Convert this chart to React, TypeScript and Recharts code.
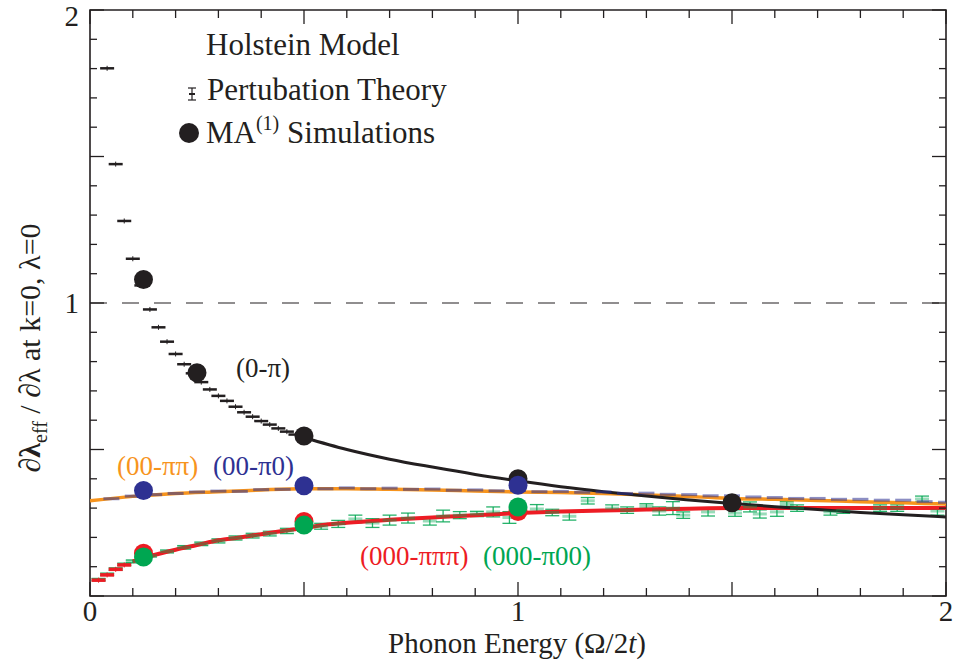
import React from "react";
import {
  ComposedChart,
  Line,
  Scatter,
  XAxis,
  YAxis,
  ReferenceLine,
  ReferenceArea,
  ErrorBar,
} from "recharts";

// perturbation theory (0-pi): discrete points, steep part
const piDashX = [0.04, 0.06, 0.08, 0.1, 0.12, 0.14, 0.16, 0.18, 0.2, 0.22, 0.24, 0.26, 0.28, 0.3, 0.32, 0.34, 0.36, 0.38, 0.4, 0.42, 0.44, 0.46, 0.48, 0.5];
const piDashY = [1.801, 1.474, 1.28, 1.151, 1.06, 0.978, 0.917, 0.868, 0.826, 0.791, 0.76, 0.73, 0.705, 0.683, 0.666, 0.646, 0.627, 0.612, 0.597, 0.585, 0.572, 0.561, 0.551, 0.541];
// perturbation theory (0-pi): dense part
const piLineX = [0.5, 0.6, 0.7, 0.8, 0.9, 1.0, 1.1, 1.2, 1.3, 1.4, 1.5, 1.6, 1.7, 1.8, 1.9, 2.0];
const piLineY = [0.541, 0.5, 0.467, 0.44, 0.415, 0.393, 0.373, 0.356, 0.341, 0.328, 0.316, 0.305, 0.295, 0.285, 0.277, 0.27];

// (00-pipi)
const ppX = [0, 0.1, 0.2, 0.3, 0.4, 0.5, 0.6, 0.7, 0.8, 0.9, 1.0, 1.1, 1.2, 1.3, 1.4, 1.5, 1.6, 1.7, 1.8, 1.9, 2.0];
const ppY = [0.325, 0.34, 0.35, 0.356, 0.362, 0.366, 0.366, 0.364, 0.362, 0.358, 0.355, 0.353, 0.35, 0.345, 0.34, 0.333, 0.33, 0.326, 0.322, 0.318, 0.314];

// (00-pi0)
const p0X = [0.05, 0.1, 0.15, 0.2, 0.25, 0.3, 0.35, 0.4, 0.45, 0.5, 0.55, 0.6, 0.65, 0.7, 0.75, 0.8, 0.85, 0.9, 0.95, 1.0, 1.05, 1.1, 1.15, 1.2, 1.25, 1.3, 1.35, 1.4, 1.45, 1.5, 1.55, 1.6, 1.65, 1.7, 1.75, 1.8, 1.85, 1.9, 1.95, 2.0];
const p0Y = [0.332, 0.341, 0.346, 0.35, 0.355, 0.358, 0.357, 0.363, 0.364, 0.368, 0.366, 0.369, 0.366, 0.368, 0.364, 0.365, 0.361, 0.362, 0.359, 0.36, 0.356, 0.357, 0.354, 0.355, 0.35, 0.351, 0.347, 0.346, 0.342, 0.342, 0.338, 0.336, 0.333, 0.333, 0.33, 0.33, 0.327, 0.327, 0.322, 0.32];

// (000-pipipi)
const pppDashX = [0.02, 0.04, 0.06, 0.08];
const pppDashY = [0.054, 0.072, 0.091, 0.106];
const pppX = [0.1, 0.15, 0.2, 0.25, 0.3, 0.35, 0.4, 0.45, 0.5, 0.55, 0.6, 0.7, 0.8, 0.9, 1.0, 1.1, 1.2, 1.3, 1.4, 1.5, 1.6, 1.7, 1.8, 1.9, 2.0];
const pppY = [0.118, 0.14, 0.158, 0.174, 0.19, 0.2, 0.211, 0.222, 0.232, 0.243, 0.25, 0.26, 0.268, 0.276, 0.283, 0.288, 0.292, 0.295, 0.298, 0.3, 0.3, 0.3, 0.3, 0.3, 0.3];

// (000-pi00) with error bars
const p00X = [0.02, 0.04, 0.06, 0.08, 0.1, 0.14, 0.18, 0.22, 0.26, 0.3, 0.34, 0.38, 0.42, 0.46, 0.5, 0.54, 0.58, 0.62, 0.66, 0.7, 0.743, 0.794, 0.825, 0.864, 0.904, 0.942, 0.98, 1.044, 1.08, 1.12, 1.163, 1.22, 1.255, 1.3, 1.33, 1.362, 1.386, 1.444, 1.507, 1.542, 1.565, 1.605, 1.628, 1.652, 1.73, 1.76, 1.846, 1.886, 1.944, 1.98];
const p00Y = [0.056, 0.074, 0.092, 0.108, 0.118, 0.138, 0.152, 0.166, 0.178, 0.188, 0.198, 0.206, 0.213, 0.222, 0.232, 0.238, 0.246, 0.263, 0.249, 0.259, 0.266, 0.256, 0.273, 0.276, 0.28, 0.287, 0.268, 0.297, 0.285, 0.272, 0.325, 0.3, 0.293, 0.307, 0.29, 0.3, 0.276, 0.287, 0.283, 0.304, 0.28, 0.287, 0.314, 0.3, 0.287, 0.293, 0.3, 0.3, 0.331, 0.29];
const p00E = [0.004, 0.004, 0.004, 0.004, 0.005, 0.005, 0.005, 0.006, 0.006, 0.007, 0.007, 0.008, 0.008, 0.009, 0.01, 0.01, 0.012, 0.013, 0.015, 0.017, 0.017, 0.014, 0.02, 0.012, 0.009, 0.017, 0.02, 0.015, 0.011, 0.013, 0.011, 0.011, 0.011, 0.008, 0.014, 0.022, 0.011, 0.014, 0.011, 0.017, 0.014, 0.015, 0.008, 0.011, 0.011, 0.011, 0.011, 0.011, 0.01, 0.014];

// MA(1) simulations
const maX = [0.125, 0.25, 0.5, 1.0, 1.5];
const maPiY = [1.08, 0.762, 0.546, 0.4, 0.318];
const maSubX = [0.125, 0.5, 1.0];
const maPi0Y = [0.36, 0.376, 0.378];
const maPppY = [0.146, 0.254, 0.288];
const maP00Y = [0.133, 0.242, 0.304];

const axisTicks = [0, 0.1, 0.2, 0.3, 0.4, 0.5, 0.6, 0.7, 0.8, 0.9, 1, 1.1, 1.2, 1.3, 1.4, 1.5, 1.6, 1.7, 1.8, 1.9, 2];
const xLabelled = [0, 1, 2];
const yLabelled = [1, 2];

const zip = (xs: number[], ys: number[], es?: number[]) =>
  xs.map((x, i) => (es ? { x, y: ys[i], e: es[i] } : { x, y: ys[i] }));

const W = 957;
const H = 666;
const LEFT = 90;
const RIGHT = 946;
const TOP = 10;
const BOTTOM = 596;
const INK = "#231f20";
const ORANGE = "#f7941d";
const BLUE = "#2e3192";
const RED = "#ed1c24";
const GREEN = "#00a651";
const FONT = '"Liberation Serif", "Times New Roman", Times, serif';
const serif = { fontFamily: FONT };

const isMajor = (v: number) => Math.abs(v * 2 - Math.round(v * 2)) < 1e-6;
const has = (arr: number[], v: number) => arr.some((a) => Math.abs(a - v) < 1e-6);

const XTick = (props: any) => {
  const { x, payload } = props;
  const v = payload.value;
  const len = isMajor(v) ? 14 : 8;
  return (
    <g>
      <line x1={x} x2={x} y1={BOTTOM} y2={BOTTOM - len} stroke={INK} strokeWidth={1.3} />
      <line x1={x} x2={x} y1={TOP} y2={TOP + len} stroke={INK} strokeWidth={1.3} />
      {has(xLabelled, v) && (
        <text x={x} y={BOTTOM + 25} textAnchor="middle" fontSize={29} style={serif} fill={INK}>
          {String(v)}
        </text>
      )}
    </g>
  );
};

const YTick = (props: any) => {
  const { y, payload } = props;
  const v = payload.value;
  const len = isMajor(v) ? 14 : 7;
  return (
    <g>
      <line x1={LEFT} x2={LEFT + len} y1={y} y2={y} stroke={INK} strokeWidth={1.3} />
      <line x1={RIGHT} x2={RIGHT - len} y1={y} y2={y} stroke={INK} strokeWidth={1.3} />
      {has(yLabelled, v) && (
        <text x={79} y={v === 2 ? y + 16 : y + 10} textAnchor="end" fontSize={29} style={serif} fill={INK}>
          {String(v)}
        </text>
      )}
    </g>
  );
};

const dash = (color: string, half: number, thick: number, opacity = 1, bar = true) => (p: any) => (
  <g>
    <line x1={p.cx - half} x2={p.cx + half} y1={p.cy} y2={p.cy} stroke={color} strokeWidth={thick} strokeOpacity={opacity} />
    {bar && <line x1={p.cx} x2={p.cx} y1={p.cy - 2.5} y2={p.cy + 2.5} stroke={color} strokeWidth={1} strokeOpacity={opacity} />}
  </g>
);

const dot = (color: string) => (p: any) => <circle cx={p.cx} cy={p.cy} r={9.5} fill={color} />;

export default function App() {
  return (
    <div style={{ position: "absolute", left: 0, top: 0, width: W, height: H, background: "#fff" }}>
      <ComposedChart width={W} height={H} margin={{ top: TOP, right: W - RIGHT, bottom: 0, left: 0 }}>
        <XAxis dataKey="x" type="number" domain={[0, 2]} ticks={axisTicks} interval={0} height={H - BOTTOM} axisLine={false} tickLine={false} tick={<XTick />} allowDataOverflow />
        <YAxis type="number" domain={[0, 2]} ticks={axisTicks} interval={0} width={LEFT} axisLine={false} tickLine={false} tick={<YTick />} allowDataOverflow />
        <ReferenceLine y={1} stroke={INK} strokeWidth={1.2} strokeDasharray="17 15" />

        <Scatter data={zip(p00X, p00Y, p00E)} dataKey="y" shape={dash(GREEN, 7, 3, 0.4, false)} isAnimationActive={false}>
          <ErrorBar dataKey="e" width={7} stroke={GREEN} strokeWidth={1.3} strokeOpacity={0.85} direction="y" />
        </Scatter>
        <Scatter data={zip(pppDashX, pppDashY)} dataKey="y" shape={dash(RED, 7, 3.5)} isAnimationActive={false} />
        <Line data={zip(pppX, pppY)} dataKey="y" type="monotone" stroke={RED} strokeWidth={4} dot={false} isAnimationActive={false} />

        <Scatter data={zip(p0X, p0Y)} dataKey="y" shape={dash(BLUE, 8, 3, 0.55, false)} isAnimationActive={false} />
        <Line data={zip(ppX, ppY)} dataKey="y" type="monotone" stroke={ORANGE} strokeWidth={3.5} dot={false} isAnimationActive={false} />

        <Scatter data={zip(piDashX, piDashY)} dataKey="y" shape={dash(INK, 7, 2.5)} isAnimationActive={false} />
        <Line data={zip(piLineX, piLineY)} dataKey="y" type="monotone" stroke={INK} strokeWidth={3} dot={false} isAnimationActive={false} />

        <Scatter data={zip(maX, maPiY)} dataKey="y" shape={dot(INK)} isAnimationActive={false} />
        <Scatter data={zip(maSubX, maPi0Y)} dataKey="y" shape={dot(BLUE)} isAnimationActive={false} />
        <Scatter data={zip(maSubX, maPppY)} dataKey="y" shape={dot(RED)} isAnimationActive={false} />
        <Scatter data={zip(maSubX, maP00Y)} dataKey="y" shape={dot(GREEN)} isAnimationActive={false} />

        <ReferenceArea x1={0} x2={2} y1={0} y2={2} fill="none" stroke={INK} strokeWidth={1.6} />
      </ComposedChart>

      <svg width={W} height={H} style={{ position: "absolute", left: 0, top: 0, pointerEvents: "none", fontFamily: FONT }}>
        <text x={206} y={55} fontSize={31} fill={INK}>Holstein Model</text>
        <g stroke={INK} strokeWidth={1.2}>
          <line x1={192} x2={192} y1={88} y2={100} />
          <line x1={188} x2={196} y1={88} y2={88} />
          <line x1={188} x2={196} y1={100} y2={100} />
          <line x1={189} x2={195} y1={94} y2={94} strokeWidth={2} />
        </g>
        <text x={207} y={100} fontSize={31} fill={INK}>Pertubation Theory</text>
        <circle cx={189} cy={133} r={10} fill={INK} />
        <text x={206} y={143} fontSize={31} fill={INK}>
          MA<tspan fontSize={20} dy={-13}>(1)</tspan>
          <tspan dy={13}> Simulations</tspan>
        </text>

        <text x={236} y={377} fontSize={27} fill={INK}>(0-π)</text>
        <text x={117} y={475} fontSize={27} fill={ORANGE}>(00-ππ)</text>
        <text x={213} y={475} fontSize={27} fill={BLUE}>(00-π0)</text>
        <text x={360} y={565} fontSize={27} fill={RED}>(000-πππ)</text>
        <text x={483} y={565} fontSize={27} fill={GREEN}>(000-π00)</text>

        <text x={517} y={653} textAnchor="middle" fontSize={29} fill={INK}>
          Phonon Energy (Ω/2<tspan fontStyle="italic">t</tspan>)
        </text>

        <text transform="translate(40,348) rotate(-90)" textAnchor="middle" fontSize={30} fill={INK}>
          ∂<tspan fontWeight="bold">λ</tspan>
          <tspan fontSize={20} dy={7}>eff</tspan>
          <tspan dy={-7}> / ∂λ  at k=0, λ=0</tspan>
        </text>
      </svg>
    </div>
  );
}
